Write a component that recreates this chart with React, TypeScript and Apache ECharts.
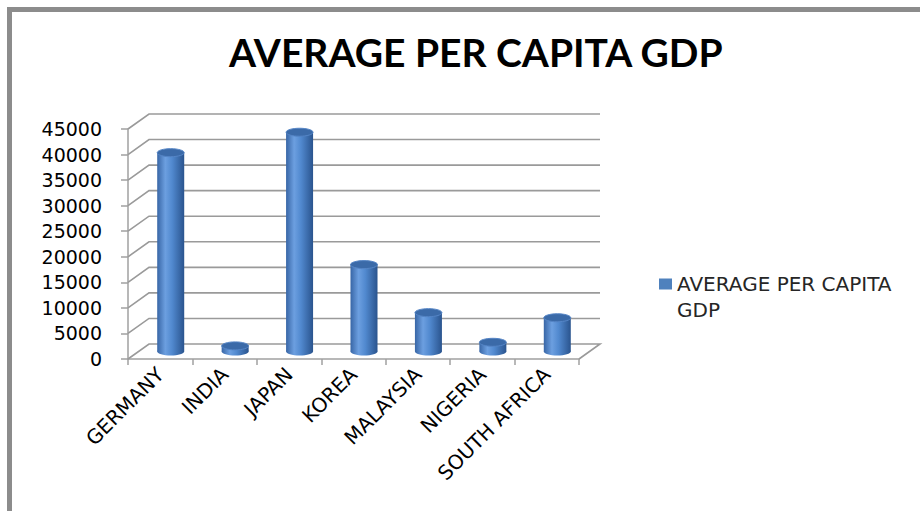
import React, { useEffect, useRef } from "react";
import * as echarts from "echarts";

const TITLE = "AVERAGE PER CAPITA GDP";
const SERIES_NAME = "AVERAGE PER CAPITA GDP";
const categories = ["GERMANY", "INDIA", "JAPAN", "KOREA", "MALAYSIA", "NIGERIA", "SOUTH AFRICA"];
const gdpValues = [38900, 1100, 42900, 17000, 7600, 1800, 6600];
const yTicks = [0, 5000, 10000, 15000, 20000, 25000, 30000, 35000, 40000, 45000];

const DEPTH_X = 21;
const DEPTH_Y = -15;

export default function App() {
  const ref = useRef<HTMLDivElement>(null);
  useEffect(() => {
    if (!ref.current) return;
    const chart = echarts.init(ref.current, undefined, { renderer: "svg" });
    const bodyGradient = new echarts.graphic.LinearGradient(0, 0, 1, 0, [
      { offset: 0, color: "#3866a6" },
      { offset: 0.3, color: "#6c9fe0" },
      { offset: 0.55, color: "#5189cf" },
      { offset: 1, color: "#2a548e" },
    ]);
    const option: any = {
      animation: false,
      backgroundColor: "#ffffff",
      title: {
        text: TITLE,
        left: 224,
        top: 27,
        textStyle: { fontFamily: "Lato", fontWeight: "bold", fontSize: 39, color: "#000000" },
      },
      legend: {
        data: [{ name: SERIES_NAME, icon: "rect" }],
        left: 659,
        top: 245,
        padding: 0,
        itemWidth: 13,
        itemHeight: 11,
        itemGap: 8,
        formatter: () => " \nAVERAGE PER CAPITA\nGDP",
        textStyle: {
          fontFamily: "DejaVu Sans",
          fontSize: 20,
          lineHeight: 26,
          color: "#262626",
        },
      },
      grid: { left: 128, top: 129, width: 451, height: 230, containLabel: false },
      xAxis: {
        type: "category",
        data: categories,
        axisLine: { show: true, lineStyle: { color: "#a0a0a0", width: 1.5 } },
        axisTick: { show: true, length: 6, lineStyle: { color: "#a0a0a0", width: 1.5 } },
        axisLabel: {
          rotate: 45,
          margin: 12,
          interval: 0,
          fontFamily: "DejaVu Sans",
          fontSize: 20,
          color: "#000000",
        },
        splitLine: { show: false },
      },
      yAxis: {
        type: "value",
        min: 0,
        max: 45000,
        interval: 5000,
        axisLine: { show: true, lineStyle: { color: "#a0a0a0", width: 1.5 } },
        axisTick: { show: true, length: 7, lineStyle: { color: "#a0a0a0", width: 1.5 } },
        axisLabel: {
          margin: 26,
          fontFamily: "DejaVu Sans",
          fontSize: 19,
          color: "#000000",
          formatter: (v: number) => String(v),
        },
        splitLine: { show: false },
      },
      graphic: [
        {
          type: "rect",
          silent: true,
          shape: { x: 9.5, y: 9.5, width: 960, height: 560 },
          style: { fill: "none", stroke: "#8c8c8c", lineWidth: 5 },
        },
      ],
      series: [
        {
          type: "custom",
          name: "grid",
          silent: true,
          clip: false,
          data: yTicks.map((t) => [0, t]),
          encode: { x: 0, y: 1 },
          renderItem: (params: any, api: any) => {
            const cs = params.coordSys;
            const y = api.coord([0, api.value(1)])[1];
            const x0 = cs.x;
            const x1 = cs.x + cs.width;
            const pts: number[][] = [
              [x0, y],
              [x0 + DEPTH_X, y + DEPTH_Y],
              [x1 + DEPTH_X, y + DEPTH_Y],
            ];
            if (api.value(1) === 0) pts.push([x1, y]);
            return {
              type: "polyline",
              shape: { points: pts },
              style: { stroke: "#9a9a9a", lineWidth: 1.6, fill: "none" },
            };
          },
        },
        {
          type: "custom",
          name: SERIES_NAME,
          clip: false,
          itemStyle: { color: "#4f81bd" },
          data: gdpValues.map((v, i) => [i, v]),
          encode: { x: 0, y: 1 },
          renderItem: (params: any, api: any) => {
            const base = api.coord([api.value(0), 0]);
            const top = api.coord([api.value(0), api.value(1)]);
            const cx = base[0] + DEPTH_X / 2;
            const by = base[1] + DEPTH_Y / 2;
            const ty = top[1] + DEPTH_Y / 2;
            const rx = 13.5;
            const ry = 4;
            return {
              type: "group",
              children: [
                {
                  type: "ellipse",
                  shape: { cx, cy: by, rx, ry },
                  style: { fill: bodyGradient },
                },
                {
                  type: "rect",
                  shape: { x: cx - rx, y: ty, width: rx * 2, height: Math.max(0, by - ty) },
                  style: { fill: bodyGradient },
                },
                {
                  type: "ellipse",
                  shape: { cx, cy: ty, rx, ry },
                  style: { fill: "#3b6aa8", stroke: "#5585c6", lineWidth: 1 },
                },
              ],
            };
          },
        },
      ],
    };
    chart.setOption(option);
    return () => chart.dispose();
  }, []);
  return (
    <div
      ref={ref}
      style={{ position: "fixed", left: 0, top: 0, width: 920, height: 511 }}
    />
  );
}
